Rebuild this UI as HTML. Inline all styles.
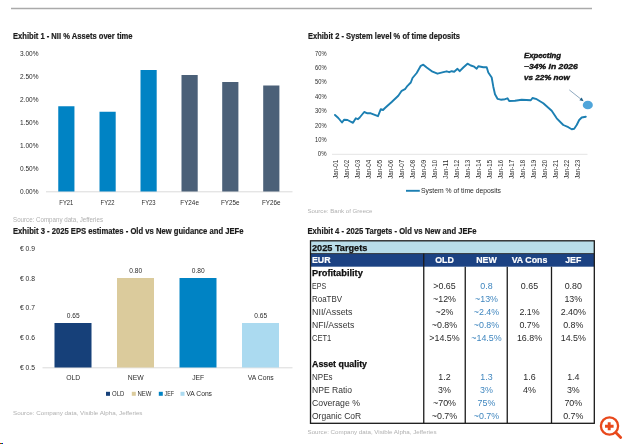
<!DOCTYPE html>
<html><head><meta charset="utf-8"><title>Exhibits</title>
<style>
html,body{margin:0;padding:0;background:#fff;}
body{width:624px;height:444px;overflow:hidden;}
svg{display:block;font-family:"Liberation Sans", sans-serif;}
</style></head><body>
<svg width="624" height="444" viewBox="0 0 624 444">
<defs><filter id="soft" x="0" y="0" width="624" height="444" filterUnits="userSpaceOnUse"><feGaussianBlur stdDeviation="0.45"/></filter></defs>
<rect width="624" height="444" fill="#ffffff"/>
<g filter="url(#soft)">
<rect width="624" height="444" fill="#ffffff"/>
<line x1="11" y1="8.5" x2="592" y2="8.5" stroke="#aaaaaa" stroke-width="1.5" />
<text x="13" y="38.7" font-size="8.4" text-anchor="start" font-weight="bold" font-style="normal" fill="#1c1c1c" textLength="119.5" lengthAdjust="spacingAndGlyphs" stroke="#1c1c1c" stroke-width="0.2">Exhibit 1 - NII % Assets over time</text>
<text x="20" y="55.5" font-size="6.8" text-anchor="start" font-weight="normal" font-style="normal" fill="#2b2b2b" textLength="18.5" lengthAdjust="spacingAndGlyphs" >3.00%</text>
<text x="20" y="78.6" font-size="6.8" text-anchor="start" font-weight="normal" font-style="normal" fill="#2b2b2b" textLength="18.5" lengthAdjust="spacingAndGlyphs" >2.50%</text>
<text x="20" y="101.7" font-size="6.8" text-anchor="start" font-weight="normal" font-style="normal" fill="#2b2b2b" textLength="18.5" lengthAdjust="spacingAndGlyphs" >2.00%</text>
<text x="20" y="124.8" font-size="6.8" text-anchor="start" font-weight="normal" font-style="normal" fill="#2b2b2b" textLength="18.5" lengthAdjust="spacingAndGlyphs" >1.50%</text>
<text x="20" y="147.9" font-size="6.8" text-anchor="start" font-weight="normal" font-style="normal" fill="#2b2b2b" textLength="18.5" lengthAdjust="spacingAndGlyphs" >1.00%</text>
<text x="20" y="170.9" font-size="6.8" text-anchor="start" font-weight="normal" font-style="normal" fill="#2b2b2b" textLength="18.5" lengthAdjust="spacingAndGlyphs" >0.50%</text>
<text x="20" y="194.0" font-size="6.8" text-anchor="start" font-weight="normal" font-style="normal" fill="#2b2b2b" textLength="18.5" lengthAdjust="spacingAndGlyphs" >0.00%</text>
<line x1="46" y1="191.8" x2="292.5" y2="191.8" stroke="#dadada" stroke-width="1" />
<rect x="58.25" y="106.25" width="16.2" height="85.25" fill="#0583c4" />
<text x="66.35" y="205" font-size="6.8" text-anchor="middle" font-weight="normal" font-style="normal" fill="#2b2b2b" textLength="14" lengthAdjust="spacingAndGlyphs" >FY21</text>
<rect x="99.5" y="111.75" width="16.2" height="79.75" fill="#0583c4" />
<text x="107.6" y="205" font-size="6.8" text-anchor="middle" font-weight="normal" font-style="normal" fill="#2b2b2b" textLength="14" lengthAdjust="spacingAndGlyphs" >FY22</text>
<rect x="140.5" y="70" width="16.2" height="121.5" fill="#0583c4" />
<text x="148.6" y="205" font-size="6.8" text-anchor="middle" font-weight="normal" font-style="normal" fill="#2b2b2b" textLength="14" lengthAdjust="spacingAndGlyphs" >FY23</text>
<rect x="181.5" y="75" width="16.2" height="116.5" fill="#4b6078" />
<text x="189.6" y="205" font-size="6.8" text-anchor="middle" font-weight="normal" font-style="normal" fill="#2b2b2b" textLength="18.6" lengthAdjust="spacingAndGlyphs" >FY24e</text>
<rect x="222.2" y="82" width="16.2" height="109.5" fill="#4b6078" />
<text x="230.29999999999998" y="205" font-size="6.8" text-anchor="middle" font-weight="normal" font-style="normal" fill="#2b2b2b" textLength="18.6" lengthAdjust="spacingAndGlyphs" >FY25e</text>
<rect x="263.2" y="85.5" width="16.2" height="106.0" fill="#4b6078" />
<text x="271.3" y="205" font-size="6.8" text-anchor="middle" font-weight="normal" font-style="normal" fill="#2b2b2b" textLength="18.6" lengthAdjust="spacingAndGlyphs" >FY26e</text>
<text x="13" y="222.2" font-size="6.3" text-anchor="start" font-weight="normal" font-style="normal" fill="#b0b0b0" textLength="90" lengthAdjust="spacingAndGlyphs" >Source: Company data, Jefferies</text>
<text x="308" y="38.7" font-size="8.4" text-anchor="start" font-weight="bold" font-style="normal" fill="#1c1c1c" textLength="152" lengthAdjust="spacingAndGlyphs" stroke="#1c1c1c" stroke-width="0.2">Exhibit 2 - System level % of time deposits</text>
<text x="326.5" y="55.75" font-size="6.8" text-anchor="end" font-weight="normal" font-style="normal" fill="#2b2b2b" textLength="11.5" lengthAdjust="spacingAndGlyphs" >70%</text>
<text x="326.5" y="70.12" font-size="6.8" text-anchor="end" font-weight="normal" font-style="normal" fill="#2b2b2b" textLength="11.5" lengthAdjust="spacingAndGlyphs" >60%</text>
<text x="326.5" y="84.49" font-size="6.8" text-anchor="end" font-weight="normal" font-style="normal" fill="#2b2b2b" textLength="11.5" lengthAdjust="spacingAndGlyphs" >50%</text>
<text x="326.5" y="98.86" font-size="6.8" text-anchor="end" font-weight="normal" font-style="normal" fill="#2b2b2b" textLength="11.5" lengthAdjust="spacingAndGlyphs" >40%</text>
<text x="326.5" y="113.22999999999999" font-size="6.8" text-anchor="end" font-weight="normal" font-style="normal" fill="#2b2b2b" textLength="11.5" lengthAdjust="spacingAndGlyphs" >30%</text>
<text x="326.5" y="127.6" font-size="6.8" text-anchor="end" font-weight="normal" font-style="normal" fill="#2b2b2b" textLength="11.5" lengthAdjust="spacingAndGlyphs" >20%</text>
<text x="326.5" y="141.97" font-size="6.8" text-anchor="end" font-weight="normal" font-style="normal" fill="#2b2b2b" textLength="11.5" lengthAdjust="spacingAndGlyphs" >10%</text>
<text x="326.5" y="156.33999999999997" font-size="6.8" text-anchor="end" font-weight="normal" font-style="normal" fill="#2b2b2b" textLength="8.7" lengthAdjust="spacingAndGlyphs" >0%</text>
<line x1="332" y1="154.3" x2="587.5" y2="154.3" stroke="#e4e4e4" stroke-width="1" />
<text transform="translate(337.80,178.8) rotate(-90)" font-size="6.6" fill="#2b2b2b" textLength="19" lengthAdjust="spacingAndGlyphs">Jan-01</text>
<text transform="translate(348.79,178.8) rotate(-90)" font-size="6.6" fill="#2b2b2b" textLength="19" lengthAdjust="spacingAndGlyphs">Jan-02</text>
<text transform="translate(359.78,178.8) rotate(-90)" font-size="6.6" fill="#2b2b2b" textLength="19" lengthAdjust="spacingAndGlyphs">Jan-03</text>
<text transform="translate(370.77,178.8) rotate(-90)" font-size="6.6" fill="#2b2b2b" textLength="19" lengthAdjust="spacingAndGlyphs">Jan-04</text>
<text transform="translate(381.76,178.8) rotate(-90)" font-size="6.6" fill="#2b2b2b" textLength="19" lengthAdjust="spacingAndGlyphs">Jan-05</text>
<text transform="translate(392.75,178.8) rotate(-90)" font-size="6.6" fill="#2b2b2b" textLength="19" lengthAdjust="spacingAndGlyphs">Jan-06</text>
<text transform="translate(403.74,178.8) rotate(-90)" font-size="6.6" fill="#2b2b2b" textLength="19" lengthAdjust="spacingAndGlyphs">Jan-07</text>
<text transform="translate(414.73,178.8) rotate(-90)" font-size="6.6" fill="#2b2b2b" textLength="19" lengthAdjust="spacingAndGlyphs">Jan-08</text>
<text transform="translate(425.72,178.8) rotate(-90)" font-size="6.6" fill="#2b2b2b" textLength="19" lengthAdjust="spacingAndGlyphs">Jan-09</text>
<text transform="translate(436.71,178.8) rotate(-90)" font-size="6.6" fill="#2b2b2b" textLength="19" lengthAdjust="spacingAndGlyphs">Jan-10</text>
<text transform="translate(447.70,178.8) rotate(-90)" font-size="6.6" fill="#2b2b2b" textLength="19" lengthAdjust="spacingAndGlyphs">Jan-11</text>
<text transform="translate(458.69,178.8) rotate(-90)" font-size="6.6" fill="#2b2b2b" textLength="19" lengthAdjust="spacingAndGlyphs">Jan-12</text>
<text transform="translate(469.68,178.8) rotate(-90)" font-size="6.6" fill="#2b2b2b" textLength="19" lengthAdjust="spacingAndGlyphs">Jan-13</text>
<text transform="translate(480.67,178.8) rotate(-90)" font-size="6.6" fill="#2b2b2b" textLength="19" lengthAdjust="spacingAndGlyphs">Jan-14</text>
<text transform="translate(491.66,178.8) rotate(-90)" font-size="6.6" fill="#2b2b2b" textLength="19" lengthAdjust="spacingAndGlyphs">Jan-15</text>
<text transform="translate(502.65,178.8) rotate(-90)" font-size="6.6" fill="#2b2b2b" textLength="19" lengthAdjust="spacingAndGlyphs">Jan-16</text>
<text transform="translate(513.64,178.8) rotate(-90)" font-size="6.6" fill="#2b2b2b" textLength="19" lengthAdjust="spacingAndGlyphs">Jan-17</text>
<text transform="translate(524.63,178.8) rotate(-90)" font-size="6.6" fill="#2b2b2b" textLength="19" lengthAdjust="spacingAndGlyphs">Jan-18</text>
<text transform="translate(535.62,178.8) rotate(-90)" font-size="6.6" fill="#2b2b2b" textLength="19" lengthAdjust="spacingAndGlyphs">Jan-19</text>
<text transform="translate(546.61,178.8) rotate(-90)" font-size="6.6" fill="#2b2b2b" textLength="19" lengthAdjust="spacingAndGlyphs">Jan-20</text>
<text transform="translate(557.60,178.8) rotate(-90)" font-size="6.6" fill="#2b2b2b" textLength="19" lengthAdjust="spacingAndGlyphs">Jan-21</text>
<text transform="translate(568.59,178.8) rotate(-90)" font-size="6.6" fill="#2b2b2b" textLength="19" lengthAdjust="spacingAndGlyphs">Jan-22</text>
<text transform="translate(579.58,178.8) rotate(-90)" font-size="6.6" fill="#2b2b2b" textLength="19" lengthAdjust="spacingAndGlyphs">Jan-23</text>
<polyline fill="none" stroke="#1b7fb2" stroke-width="1.9" stroke-linejoin="round" stroke-linecap="round" points="335,115 338.3,118 342,122.5 344.2,119.7 347.5,120 353,122.8 355.8,118.3 358,119.2 359.7,117.5 364.2,112 367.5,113.3 370.8,113.3 378,116.2 380.8,109.2 383,110 385,108 391.7,102 398.3,95.8 401.7,90.8 405,89.2 407.5,85.8 410.8,82.5 412.5,78 416.7,73 420.8,65.8 423.3,64.7 426.7,67.5 432.5,71.7 437.5,73.7 443.3,72.2 446.7,71.3 449.2,72.2 451.7,71.2 454.2,71.7 457.5,68.8 459.7,71.2 463.3,67.5 467.5,63.7 470.8,65.5 474.2,66.7 476.7,68.7 478.3,66.3 483.3,67.2 486.7,67.2 488.3,72.5 491.7,77.5 493.3,86.7 495,94.2 497.5,98.8 500.8,99.7 505,99.2 507.5,98.3 509.2,101 515,100.8 521.7,99.7 530.8,100.3 532.5,98 536.7,99.2 543.3,103.3 551.7,110.8 556.7,118.3 563.3,125 568.3,127.2 571.7,129.2 574.2,128.7 576.7,125 579.2,120 581.7,117.5 585.8,116.7"/>
<line x1="406" y1="190.8" x2="419.8" y2="190.8" stroke="#1b7fb2" stroke-width="1.9" />
<text x="421" y="193.2" font-size="6.8" text-anchor="start" font-weight="normal" font-style="normal" fill="#2b2b2b" textLength="80" lengthAdjust="spacingAndGlyphs" >System % of time deposits</text>
<text x="524" y="58" font-size="7.7" text-anchor="start" font-weight="bold" font-style="italic" fill="#151515" textLength="37" lengthAdjust="spacingAndGlyphs" stroke="#151515" stroke-width="0.4">Expecting</text>
<text x="524" y="69" font-size="7.7" text-anchor="start" font-weight="bold" font-style="italic" fill="#151515" textLength="53.75" lengthAdjust="spacingAndGlyphs" stroke="#151515" stroke-width="0.4">~34% in 2026</text>
<text x="524" y="80" font-size="7.7" text-anchor="start" font-weight="bold" font-style="italic" fill="#151515" textLength="45.75" lengthAdjust="spacingAndGlyphs" stroke="#151515" stroke-width="0.4">vs 22% now</text>
<line x1="569.3" y1="89.9" x2="581.5" y2="99.6" stroke="#8fa9bf" stroke-width="1.0" />
<polygon points="583.6,101.2 579.4,100.2 581.7,97.5" fill="#1f6189"/>
<ellipse cx="587.8" cy="105" rx="5.05" ry="4.25" fill="#4fa5da"/>
<text x="307.5" y="213.4" font-size="6.2" text-anchor="start" font-weight="normal" font-style="normal" fill="#b0b0b0" textLength="65" lengthAdjust="spacingAndGlyphs" >Source: Bank of Greece</text>
<text x="13" y="233.7" font-size="8.4" text-anchor="start" font-weight="bold" font-style="normal" fill="#1c1c1c" textLength="230.5" lengthAdjust="spacingAndGlyphs" stroke="#1c1c1c" stroke-width="0.2">Exhibit 3 - 2025 EPS estimates - Old vs New guidance and JEFe</text>
<text x="20" y="251" font-size="6.8" text-anchor="start" font-weight="normal" font-style="normal" fill="#2b2b2b" textLength="15" lengthAdjust="spacingAndGlyphs" >€ 0.9</text>
<text x="20" y="281" font-size="6.8" text-anchor="start" font-weight="normal" font-style="normal" fill="#2b2b2b" textLength="15" lengthAdjust="spacingAndGlyphs" >€ 0.8</text>
<text x="20" y="310" font-size="6.8" text-anchor="start" font-weight="normal" font-style="normal" fill="#2b2b2b" textLength="15" lengthAdjust="spacingAndGlyphs" >€ 0.7</text>
<text x="20" y="340" font-size="6.8" text-anchor="start" font-weight="normal" font-style="normal" fill="#2b2b2b" textLength="15" lengthAdjust="spacingAndGlyphs" >€ 0.6</text>
<text x="20" y="370" font-size="6.8" text-anchor="start" font-weight="normal" font-style="normal" fill="#2b2b2b" textLength="15" lengthAdjust="spacingAndGlyphs" >€ 0.5</text>
<line x1="42.5" y1="367.8" x2="292.5" y2="367.8" stroke="#dadada" stroke-width="1" />
<rect x="54.5" y="323" width="37" height="44.5" fill="#133f79" />
<text x="73.2" y="380.4" font-size="6.8" text-anchor="middle" font-weight="normal" font-style="normal" fill="#2b2b2b" >OLD</text>
<text x="73.2" y="317.9" font-size="6.6" text-anchor="middle" font-weight="normal" font-style="normal" fill="#2b2b2b" >0.65</text>
<rect x="117" y="278" width="37" height="89.5" fill="#dbcb9c" />
<text x="135.7" y="380.4" font-size="6.8" text-anchor="middle" font-weight="normal" font-style="normal" fill="#2b2b2b" >NEW</text>
<text x="135.7" y="272.9" font-size="6.6" text-anchor="middle" font-weight="normal" font-style="normal" fill="#2b2b2b" >0.80</text>
<rect x="179.5" y="278" width="37" height="89.5" fill="#0583c4" />
<text x="198.2" y="380.4" font-size="6.8" text-anchor="middle" font-weight="normal" font-style="normal" fill="#2b2b2b" >JEF</text>
<text x="198.2" y="272.9" font-size="6.6" text-anchor="middle" font-weight="normal" font-style="normal" fill="#2b2b2b" >0.80</text>
<rect x="242" y="323" width="37" height="44.5" fill="#abdaf0" />
<text x="260.7" y="380.4" font-size="6.8" text-anchor="middle" font-weight="normal" font-style="normal" fill="#2b2b2b" >VA Cons</text>
<text x="260.7" y="317.9" font-size="6.6" text-anchor="middle" font-weight="normal" font-style="normal" fill="#2b2b2b" >0.65</text>
<rect x="106" y="391.8" width="4" height="4" fill="#133f79" />
<text x="112" y="396.2" font-size="6.8" text-anchor="start" font-weight="normal" font-style="normal" fill="#2b2b2b" textLength="12.3" lengthAdjust="spacingAndGlyphs" >OLD</text>
<rect x="131.8" y="391.8" width="4" height="4" fill="#dbcb9c" />
<text x="137.5" y="396.2" font-size="6.8" text-anchor="start" font-weight="normal" font-style="normal" fill="#2b2b2b" textLength="14" lengthAdjust="spacingAndGlyphs" >NEW</text>
<rect x="158.8" y="391.8" width="4" height="4" fill="#0583c4" />
<text x="164.5" y="396.2" font-size="6.8" text-anchor="start" font-weight="normal" font-style="normal" fill="#2b2b2b" textLength="9.5" lengthAdjust="spacingAndGlyphs" >JEF</text>
<rect x="180.5" y="391.8" width="4" height="4" fill="#abdaf0" />
<text x="186.3" y="396.2" font-size="6.8" text-anchor="start" font-weight="normal" font-style="normal" fill="#2b2b2b" textLength="25.7" lengthAdjust="spacingAndGlyphs" >VA Cons</text>
<text x="13" y="415.2" font-size="6.2" text-anchor="start" font-weight="normal" font-style="normal" fill="#b0b0b0" textLength="129.5" lengthAdjust="spacingAndGlyphs" >Source: Company data, Visible Alpha, Jefferies</text>
<text x="307.5" y="233.7" font-size="8.4" text-anchor="start" font-weight="bold" font-style="normal" fill="#1c1c1c" textLength="169" lengthAdjust="spacingAndGlyphs" stroke="#1c1c1c" stroke-width="0.2">Exhibit 4 - 2025 Targets - Old vs New and JEFe</text>
<rect x="310.5" y="241" width="283.8" height="12.6" fill="#b9dde9" />
<rect x="310.5" y="253.6" width="283.8" height="13.1" fill="#1f4383" />
<line x1="423.75" y1="253.6" x2="423.75" y2="423.3" stroke="#1a1a1a" stroke-width="1.3" />
<line x1="465.25" y1="266.7" x2="465.25" y2="423.3" stroke="#1a1a1a" stroke-width="1.3" />
<line x1="507.25" y1="266.7" x2="507.25" y2="423.3" stroke="#1a1a1a" stroke-width="1.3" />
<line x1="551.5" y1="266.7" x2="551.5" y2="423.3" stroke="#1a1a1a" stroke-width="1.3" />
<rect x="310.5" y="240.8" width="283.8" height="182.5" fill="none" stroke="#1a1a1a" stroke-width="1.3"/>
<line x1="310.5" y1="253.6" x2="594.3" y2="253.6" stroke="#1a1a1a" stroke-width="0.8" />
<text x="312" y="251" font-size="8.9" text-anchor="start" font-weight="bold" font-style="normal" fill="#111" textLength="55.3" lengthAdjust="spacingAndGlyphs" stroke="#111" stroke-width="0.25">2025 Targets</text>
<text x="312" y="263" font-size="8.8" text-anchor="start" font-weight="bold" font-style="normal" fill="#fff" stroke="#fff" stroke-width="0.2">EUR</text>
<text x="444.5" y="263" font-size="8.8" text-anchor="middle" font-weight="bold" font-style="normal" fill="#fff" stroke="#fff" stroke-width="0.2">OLD</text>
<text x="486.5" y="263" font-size="8.8" text-anchor="middle" font-weight="bold" font-style="normal" fill="#fff" stroke="#fff" stroke-width="0.2">NEW</text>
<text x="529.5" y="263" font-size="8.8" text-anchor="middle" font-weight="bold" font-style="normal" fill="#fff" stroke="#fff" stroke-width="0.2">VA Cons</text>
<text x="573.3" y="263" font-size="8.8" text-anchor="middle" font-weight="bold" font-style="normal" fill="#fff" stroke="#fff" stroke-width="0.2">JEF</text>
<text x="312" y="276" font-size="8.8" text-anchor="start" font-weight="bold" font-style="normal" fill="#111" textLength="50.8" lengthAdjust="spacingAndGlyphs" stroke="#111" stroke-width="0.25">Profitability</text>
<text x="312" y="289" font-size="8.8" text-anchor="start" font-weight="normal" font-style="normal" fill="#333" textLength="14.2" lengthAdjust="spacingAndGlyphs" >EPS</text>
<text x="444.5" y="289" font-size="8.9" text-anchor="middle" font-weight="normal" font-style="normal" fill="#2a2a2a" >>0.65</text>
<text x="486.5" y="289" font-size="8.9" text-anchor="middle" font-weight="normal" font-style="normal" fill="#3f86bf" >0.8</text>
<text x="529.5" y="289" font-size="8.9" text-anchor="middle" font-weight="normal" font-style="normal" fill="#2a2a2a" >0.65</text>
<text x="573.3" y="289" font-size="8.9" text-anchor="middle" font-weight="normal" font-style="normal" fill="#2a2a2a" >0.80</text>
<text x="312" y="302" font-size="8.8" text-anchor="start" font-weight="normal" font-style="normal" fill="#333" textLength="30" lengthAdjust="spacingAndGlyphs" >RoaTBV</text>
<text x="444.5" y="302" font-size="8.9" text-anchor="middle" font-weight="normal" font-style="normal" fill="#2a2a2a" >~12%</text>
<text x="486.5" y="302" font-size="8.9" text-anchor="middle" font-weight="normal" font-style="normal" fill="#3f86bf" >~13%</text>
<text x="573.3" y="302" font-size="8.9" text-anchor="middle" font-weight="normal" font-style="normal" fill="#2a2a2a" >13%</text>
<text x="312" y="315" font-size="8.8" text-anchor="start" font-weight="normal" font-style="normal" fill="#333" textLength="40.5" lengthAdjust="spacingAndGlyphs" >NII/Assets</text>
<text x="444.5" y="315" font-size="8.9" text-anchor="middle" font-weight="normal" font-style="normal" fill="#2a2a2a" >~2%</text>
<text x="486.5" y="315" font-size="8.9" text-anchor="middle" font-weight="normal" font-style="normal" fill="#3f86bf" >~2.4%</text>
<text x="529.5" y="315" font-size="8.9" text-anchor="middle" font-weight="normal" font-style="normal" fill="#2a2a2a" >2.1%</text>
<text x="573.3" y="315" font-size="8.9" text-anchor="middle" font-weight="normal" font-style="normal" fill="#2a2a2a" >2.40%</text>
<text x="312" y="328" font-size="8.8" text-anchor="start" font-weight="normal" font-style="normal" fill="#333" textLength="42.2" lengthAdjust="spacingAndGlyphs" >NFI/Assets</text>
<text x="444.5" y="328" font-size="8.9" text-anchor="middle" font-weight="normal" font-style="normal" fill="#2a2a2a" >~0.8%</text>
<text x="486.5" y="328" font-size="8.9" text-anchor="middle" font-weight="normal" font-style="normal" fill="#3f86bf" >~0.8%</text>
<text x="529.5" y="328" font-size="8.9" text-anchor="middle" font-weight="normal" font-style="normal" fill="#2a2a2a" >0.7%</text>
<text x="573.3" y="328" font-size="8.9" text-anchor="middle" font-weight="normal" font-style="normal" fill="#2a2a2a" >0.8%</text>
<text x="312" y="341" font-size="8.8" text-anchor="start" font-weight="normal" font-style="normal" fill="#333" textLength="19.2" lengthAdjust="spacingAndGlyphs" >CET1</text>
<text x="444.5" y="341" font-size="8.9" text-anchor="middle" font-weight="normal" font-style="normal" fill="#2a2a2a" >>14.5%</text>
<text x="486.5" y="341" font-size="8.9" text-anchor="middle" font-weight="normal" font-style="normal" fill="#3f86bf" >~14.5%</text>
<text x="529.5" y="341" font-size="8.9" text-anchor="middle" font-weight="normal" font-style="normal" fill="#2a2a2a" >16.8%</text>
<text x="573.3" y="341" font-size="8.9" text-anchor="middle" font-weight="normal" font-style="normal" fill="#2a2a2a" >14.5%</text>
<text x="312" y="367" font-size="8.8" text-anchor="start" font-weight="bold" font-style="normal" fill="#111" textLength="55" lengthAdjust="spacingAndGlyphs" stroke="#111" stroke-width="0.25">Asset quality</text>
<text x="312" y="380" font-size="8.8" text-anchor="start" font-weight="normal" font-style="normal" fill="#333" textLength="20.5" lengthAdjust="spacingAndGlyphs" >NPEs</text>
<text x="444.5" y="380" font-size="8.9" text-anchor="middle" font-weight="normal" font-style="normal" fill="#2a2a2a" >1.2</text>
<text x="486.5" y="380" font-size="8.9" text-anchor="middle" font-weight="normal" font-style="normal" fill="#3f86bf" >1.3</text>
<text x="529.5" y="380" font-size="8.9" text-anchor="middle" font-weight="normal" font-style="normal" fill="#2a2a2a" >1.6</text>
<text x="573.3" y="380" font-size="8.9" text-anchor="middle" font-weight="normal" font-style="normal" fill="#2a2a2a" >1.4</text>
<text x="312" y="393" font-size="8.8" text-anchor="start" font-weight="normal" font-style="normal" fill="#333" textLength="40" lengthAdjust="spacingAndGlyphs" >NPE Ratio</text>
<text x="444.5" y="393" font-size="8.9" text-anchor="middle" font-weight="normal" font-style="normal" fill="#2a2a2a" >3%</text>
<text x="486.5" y="393" font-size="8.9" text-anchor="middle" font-weight="normal" font-style="normal" fill="#3f86bf" >3%</text>
<text x="529.5" y="393" font-size="8.9" text-anchor="middle" font-weight="normal" font-style="normal" fill="#2a2a2a" >4%</text>
<text x="573.3" y="393" font-size="8.9" text-anchor="middle" font-weight="normal" font-style="normal" fill="#2a2a2a" >3%</text>
<text x="312" y="406" font-size="8.8" text-anchor="start" font-weight="normal" font-style="normal" fill="#333" textLength="48" lengthAdjust="spacingAndGlyphs" >Coverage %</text>
<text x="444.5" y="406" font-size="8.9" text-anchor="middle" font-weight="normal" font-style="normal" fill="#2a2a2a" >~70%</text>
<text x="486.5" y="406" font-size="8.9" text-anchor="middle" font-weight="normal" font-style="normal" fill="#3f86bf" >75%</text>
<text x="573.3" y="406" font-size="8.9" text-anchor="middle" font-weight="normal" font-style="normal" fill="#2a2a2a" >70%</text>
<text x="312" y="419" font-size="8.8" text-anchor="start" font-weight="normal" font-style="normal" fill="#333" textLength="49.2" lengthAdjust="spacingAndGlyphs" >Organic CoR</text>
<text x="444.5" y="419" font-size="8.9" text-anchor="middle" font-weight="normal" font-style="normal" fill="#2a2a2a" >~0.7%</text>
<text x="486.5" y="419" font-size="8.9" text-anchor="middle" font-weight="normal" font-style="normal" fill="#3f86bf" >~0.7%</text>
<text x="573.3" y="419" font-size="8.9" text-anchor="middle" font-weight="normal" font-style="normal" fill="#2a2a2a" >0.7%</text>
<text x="307.5" y="434.4" font-size="6.2" text-anchor="start" font-weight="normal" font-style="normal" fill="#b0b0b0" textLength="129" lengthAdjust="spacingAndGlyphs" >Source: Company data, Visible Alpha, Jefferies</text>
<g stroke="#e8491d" fill="none"><circle cx="609.5" cy="426" r="8.6" stroke-width="2.3"/><path d="M616 432.8 L620.7 437.6" stroke-width="2.8" stroke-linecap="round"/><path d="M605 426.2 H613.6 M609.2 422.2 V430.3" stroke-width="2.9"/></g>
</g>
<rect x="0" y="443" width="1" height="1" fill="#e00000"/><rect x="1" y="443" width="1" height="1" fill="#00b000"/><rect x="2" y="443" width="1" height="1" fill="#0000e0"/>
</svg>
</body></html>
